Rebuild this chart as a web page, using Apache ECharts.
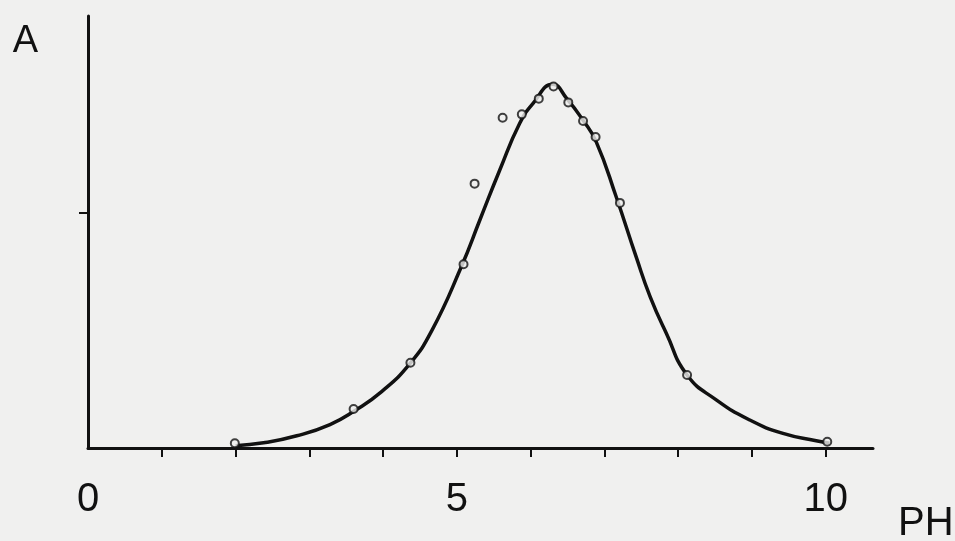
<!DOCTYPE html>
<html>
<head>
<meta charset="utf-8">
<script src="https://cdn.jsdelivr.net/npm/echarts@6/dist/echarts.min.js"></script>
<style>
  html, body { margin: 0; padding: 0; background: #f0f0ef; }
  #chart { width: 955px; height: 541px; }
</style>
</head>
<body>
<div id="chart"></div>
<script>
// Absorbance A against pH: measured points and the fitted curve
const phMeasured = [1.99, 3.60, 4.37, 5.09, 5.24, 5.62, 5.88, 6.11, 6.31, 6.51, 6.71, 6.88, 7.21, 8.12, 10.02];
const aMeasured  = [0.02, 0.166, 0.363, 0.783, 1.126, 1.407, 1.421, 1.488, 1.540, 1.472, 1.393, 1.325, 1.044, 0.311, 0.027];

const phCurve = [2.0, 2.38, 2.83, 3.28, 3.62, 3.98, 4.36, 4.66, 5.06, 5.31, 5.58, 5.85, 6.03, 6.30, 6.49, 6.71, 6.89, 7.16, 7.43, 7.62, 7.84, 8.12, 8.52, 8.97, 9.42, 9.87, 10.05];
const aCurve  = [0.010, 0.022, 0.052, 0.100, 0.160, 0.240, 0.358, 0.500, 0.772, 0.970, 1.183, 1.382, 1.467, 1.549, 1.488, 1.396, 1.303, 1.069, 0.814, 0.644, 0.488, 0.311, 0.204, 0.119, 0.062, 0.031, 0.020];

const xTickValues  = [1, 2, 3, 4, 5, 6, 7, 8, 9, 10];
const xLabelValues = [0, 5, 10];
const yTickValues  = [1];

const pair = (xs, ys) => xs.map((x, i) => [x, ys[i]]);

const ink = '#111';
const paper = '#f0f0ef';
const font = "'Liberation Sans', Roboto, sans-serif";

const chart = echarts.init(document.getElementById('chart'));
chart.setOption({
  backgroundColor: paper,
  animation: false,
  grid: { left: 88, right: 82, top: 16, bottom: 93 },
  graphic: [
    {
      type: 'text',
      left: 898,
      top: 504,
      style: { text: 'PH', fill: ink, font: '40px ' + font }
    }
  ],
  xAxis: {
    type: 'value',
    min: 0,
    max: 10.64,
    axisLine: { show: true, lineStyle: { color: ink, width: 3 } },
    axisTick: {
      show: true, inside: false, length: 9,
      customValues: xTickValues,
      lineStyle: { color: ink, width: 2 }
    },
    axisLabel: {
      show: true, margin: 32,
      customValues: xLabelValues,
      color: ink, fontFamily: font, fontSize: 40
    },
    splitLine: { show: false }
  },
  yAxis: {
    type: 'value',
    min: 0,
    max: 1.84,
    name: 'A',
    nameLocation: 'end',
    nameGap: -45,
    nameTextStyle: {
      color: ink, fontFamily: font, fontSize: 38, align: 'right',
      padding: [0, 50, 0, 0]
    },
    axisLine: { show: true, lineStyle: { color: ink, width: 3 } },
    axisTick: {
      show: true, inside: false, length: 9,
      customValues: yTickValues,
      lineStyle: { color: ink, width: 2 }
    },
    axisLabel: { show: false },
    splitLine: { show: false }
  },
  series: [
    {
      type: 'line',
      data: pair(phCurve, aCurve),
      smooth: 0.5,
      showSymbol: false,
      lineStyle: { color: ink, width: 3.5 },
      z: 2
    },
    {
      type: 'scatter',
      data: pair(phMeasured, aMeasured),
      symbol: 'circle',
      symbolSize: 8,
      itemStyle: { color: paper, borderColor: ink, borderWidth: 2 },
      z: 3
    }
  ]
});
</script>
</body>
</html>
